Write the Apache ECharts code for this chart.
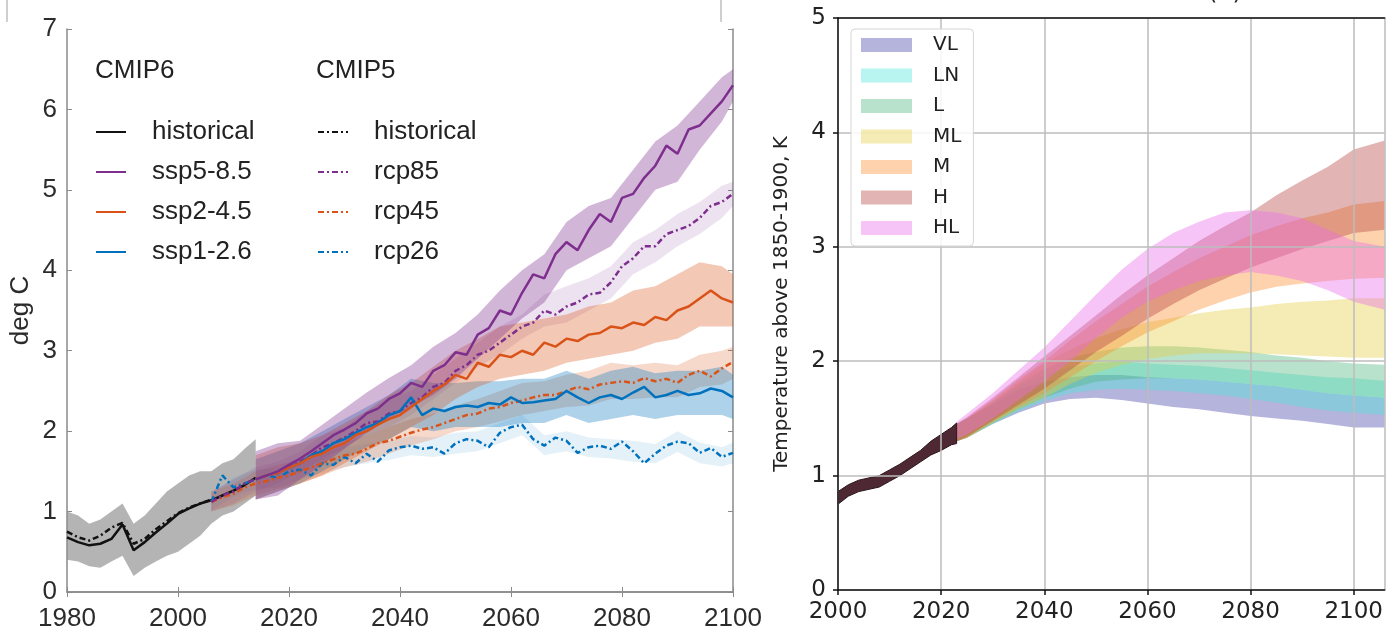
<!DOCTYPE html>
<html>
<head>
<meta charset="utf-8">
<script src="https://cdn.jsdelivr.net/npm/echarts@6/dist/echarts.min.js"></script>
<style>
html,body{margin:0;padding:0;background:#fff;}
#chart{width:1386px;height:633px;}
</style>
</head>
<body>
<div id="chart"></div>
<script>
// year lists (x categories)
function span(a, b, s){ var r = []; for (var y = a; y <= b; y += s) r.push(y); return r; }

// ---- panel (a): CMIP6 / CMIP5 ----
var yrHist6 = span(1980, 2014, 2);
var yrHist5 = span(1980, 2006, 2);
var yrSsp = span(2014, 2100, 2);
var yrRcp = span(2006, 2100, 2);
var yrSspBand = span(2014, 2098, 4).concat([2100]);
var yrRcpBand = span(2006, 2098, 4).concat([2100]);

var hist6 = [0.68,0.62,0.58,0.6,0.66,0.84,0.52,0.62,0.74,0.85,0.97,1.04,1.1,1.14,1.2,1.26,1.33,1.42];
var hist5 = [0.75,0.68,0.64,0.7,0.8,0.86,0.6,0.66,0.78,0.88,0.98,1.05,1.1,1.15];
var hist6Lo = [0.4,0.38,0.32,0.3,0.38,0.45,0.2,0.3,0.38,0.45,0.5,0.6,0.7,0.85,0.95,1.0,1.1,1.2];
var hist6Hi = [1.0,0.95,0.85,0.9,1.0,1.1,0.85,0.95,1.1,1.25,1.35,1.45,1.5,1.5,1.6,1.65,1.78,1.9];

var ssp585 = [1.4,1.45,1.5,1.58,1.66,1.75,1.85,1.95,2.02,2.1,2.22,2.28,2.4,2.47,2.6,2.55,2.75,2.82,2.98,2.95,3.2,3.28,3.5,3.45,3.72,3.95,3.9,4.2,4.35,4.25,4.5,4.7,4.6,4.9,4.95,5.15,5.3,5.55,5.45,5.75,5.8,5.95,6.1,6.3];
var ssp585Lo = [1.15,1.2,1.4,1.58,1.78,1.98,2.15,2.3,2.45,2.65,2.9,3.15,3.4,3.6,4.0,4.15,4.3,4.65,5.0,5.1,5.5,5.85,6.1];
var ssp585Hi = [1.75,1.85,1.88,2.08,2.28,2.48,2.66,2.82,3.05,3.22,3.45,3.75,4.0,4.2,4.6,4.8,4.9,5.25,5.6,5.8,6.1,6.4,6.5];

var ssp245 = [1.4,1.45,1.48,1.55,1.6,1.68,1.72,1.8,1.85,1.95,2.0,2.08,2.15,2.2,2.3,2.4,2.5,2.58,2.7,2.65,2.85,2.8,2.95,2.92,3.0,2.95,3.1,3.05,3.15,3.12,3.2,3.22,3.3,3.28,3.35,3.32,3.42,3.38,3.5,3.55,3.65,3.75,3.65,3.6];
var ssp245Lo = [1.15,1.25,1.35,1.45,1.6,1.75,1.9,2.05,2.2,2.4,2.55,2.65,2.7,2.75,2.85,2.9,2.95,3.0,3.1,3.15,3.3,3.3,3.3];
var ssp245Hi = [1.7,1.8,1.85,1.95,2.1,2.25,2.45,2.6,2.8,3.0,3.15,3.3,3.35,3.4,3.45,3.55,3.6,3.75,3.8,3.95,4.1,4.05,3.95];

var ssp126 = [1.4,1.45,1.48,1.55,1.6,1.7,1.75,1.85,1.9,1.98,2.05,2.1,2.2,2.25,2.42,2.2,2.28,2.25,2.3,2.32,2.3,2.35,2.33,2.42,2.35,2.36,2.38,2.4,2.5,2.42,2.35,2.42,2.45,2.4,2.48,2.55,2.42,2.45,2.5,2.45,2.47,2.53,2.5,2.42];
var ssp126Lo = [1.15,1.25,1.35,1.5,1.65,1.8,1.9,2.05,2.0,2.05,2.05,2.05,2.1,2.1,2.2,2.1,2.15,2.2,2.15,2.2,2.2,2.2,2.15];
var ssp126Hi = [1.65,1.75,1.85,2.0,2.15,2.3,2.45,2.65,2.6,2.6,2.62,2.62,2.65,2.65,2.75,2.65,2.75,2.8,2.72,2.75,2.75,2.8,2.7];

var rcp85 = [1.12,1.2,1.25,1.35,1.4,1.45,1.48,1.55,1.62,1.7,1.8,1.85,1.92,2.0,2.1,2.12,2.22,2.25,2.35,2.42,2.55,2.6,2.75,2.82,2.95,3.0,3.1,3.2,3.3,3.35,3.5,3.45,3.55,3.6,3.7,3.72,3.85,4.05,4.15,4.3,4.3,4.45,4.5,4.55,4.65,4.8,4.85,4.95];
var rcp85Lo = [1.0,1.1,1.25,1.35,1.5,1.65,1.8,1.95,2.05,2.2,2.4,2.6,2.8,2.95,3.15,3.3,3.35,3.5,3.65,3.95,4.1,4.3,4.45,4.65,4.8];
var rcp85Hi = [1.25,1.4,1.55,1.62,1.75,1.95,2.05,2.25,2.4,2.5,2.7,2.9,3.1,3.3,3.45,3.7,3.8,3.9,4.05,4.35,4.5,4.7,4.85,5.05,5.1];

var rcp45 = [1.12,1.18,1.22,1.3,1.35,1.38,1.42,1.45,1.5,1.55,1.6,1.65,1.7,1.72,1.78,1.85,1.88,1.93,1.98,2.02,2.05,2.1,2.15,2.2,2.22,2.28,2.3,2.35,2.38,2.42,2.45,2.45,2.5,2.55,2.52,2.58,2.6,2.62,2.6,2.66,2.62,2.65,2.6,2.7,2.75,2.68,2.78,2.86];
var rcp45Lo = [1.0,1.08,1.2,1.28,1.35,1.45,1.55,1.62,1.72,1.82,1.9,2.0,2.05,2.12,2.2,2.25,2.3,2.32,2.4,2.4,2.42,2.42,2.55,2.58,2.65];
var rcp45Hi = [1.25,1.35,1.5,1.58,1.65,1.75,1.85,1.95,2.05,2.15,2.22,2.32,2.4,2.5,2.6,2.62,2.7,2.75,2.85,2.82,2.85,2.82,2.95,3.0,3.05];

var rcp26 = [1.12,1.45,1.3,1.35,1.4,1.45,1.42,1.5,1.52,1.45,1.6,1.58,1.68,1.6,1.72,1.62,1.76,1.8,1.82,1.78,1.8,1.72,1.85,1.9,1.88,1.8,1.98,2.05,2.08,1.9,1.82,1.92,1.88,1.73,1.8,1.82,1.78,1.87,1.75,1.6,1.72,1.82,1.87,1.85,1.73,1.79,1.68,1.73];
var rcp26Lo = [1.02,1.18,1.28,1.3,1.4,1.48,1.55,1.6,1.64,1.7,1.68,1.72,1.75,1.85,1.95,1.7,1.75,1.68,1.66,1.62,1.6,1.74,1.6,1.56,1.6];
var rcp26Hi = [1.22,1.42,1.52,1.54,1.64,1.72,1.8,1.84,1.88,1.94,1.92,1.98,2.0,2.1,2.2,1.95,2.0,1.92,1.9,1.88,1.84,2.0,1.86,1.8,1.86];

// ---- panel (b): scenario ranges ----
var yrB = [2023,2025,2030,2035,2040,2045,2050,2055,2060,2065,2070,2075,2080,2085,2090,2095,2100,2106];
var yrBHist = [2000,2002,2004,2006,2008,2010,2012,2014,2016,2018,2020,2022,2023];
var histBLo = [0.75,0.82,0.86,0.88,0.9,0.95,1.0,1.06,1.12,1.18,1.22,1.27,1.28];
var histBHi = [0.86,0.92,0.96,0.98,1.0,1.05,1.1,1.16,1.22,1.3,1.36,1.42,1.46];

var vlLo = [1.3,1.33,1.45,1.55,1.63,1.67,1.68,1.66,1.63,1.6,1.58,1.55,1.52,1.5,1.48,1.45,1.42,1.42];
var vlHi = [1.45,1.5,1.62,1.75,1.82,1.86,1.88,1.88,1.86,1.85,1.84,1.82,1.8,1.78,1.75,1.72,1.7,1.68];
var lnLo = [1.3,1.33,1.45,1.56,1.65,1.72,1.75,1.76,1.75,1.74,1.72,1.7,1.67,1.64,1.6,1.57,1.55,1.53];
var lnHi = [1.45,1.5,1.63,1.78,1.88,1.95,1.98,2.0,1.98,1.97,1.96,1.94,1.92,1.9,1.88,1.86,1.85,1.83];
var lLo = [1.3,1.33,1.46,1.58,1.68,1.76,1.82,1.84,1.85,1.85,1.84,1.82,1.8,1.78,1.75,1.72,1.7,1.68];
var lHi = [1.45,1.5,1.64,1.8,1.93,2.03,2.08,2.12,2.13,2.13,2.12,2.1,2.08,2.05,2.03,2.0,1.98,1.97];
var mlLo = [1.3,1.33,1.46,1.58,1.68,1.8,1.9,1.97,2.02,2.05,2.07,2.07,2.07,2.06,2.05,2.04,2.03,2.03];
var mlHi = [1.45,1.5,1.65,1.82,1.98,2.1,2.2,2.28,2.34,2.38,2.42,2.45,2.47,2.5,2.52,2.53,2.55,2.55];
var mLo = [1.3,1.33,1.47,1.6,1.72,1.86,2.0,2.13,2.25,2.35,2.45,2.53,2.6,2.65,2.68,2.7,2.72,2.73];
var mHi = [1.45,1.5,1.66,1.84,2.0,2.18,2.35,2.5,2.65,2.78,2.9,3.0,3.1,3.18,3.25,3.3,3.37,3.4];
var hLo = [1.3,1.34,1.48,1.62,1.76,1.92,2.08,2.22,2.37,2.5,2.62,2.72,2.82,2.9,2.98,3.05,3.12,3.15];
var hHi = [1.45,1.51,1.68,1.86,2.04,2.22,2.4,2.58,2.75,2.9,3.05,3.18,3.3,3.45,3.58,3.7,3.85,3.93];
var hlLo = [1.32,1.36,1.5,1.66,1.82,2.0,2.2,2.38,2.52,2.62,2.7,2.75,2.78,2.75,2.7,2.62,2.52,2.45];
var hlHi = [1.47,1.54,1.72,1.92,2.12,2.35,2.58,2.8,2.98,3.12,3.22,3.3,3.32,3.3,3.25,3.15,3.05,3.0];

var purple = '#7E2F8E', orange = '#D95319', blue = '#0072BD';
var fontA = 'Liberation Sans, Arial, sans-serif';
var fontB = 'DejaVu Sans, sans-serif';

function pairs(xs, ys){ return xs.map(function(x, i){ return [x, ys[i]]; }); }
function plain(v){ return String(v); }

// filled range between lo and hi, drawn as one polygon
function band(name, xs, lo, hi, color, grid, z, border){
	var pts = xs.map(function(x, i){ return [x, lo[i], hi[i]]; });
	return {
		type: 'custom', name: name, xAxisIndex: grid == 0 ? 0 : 2, yAxisIndex: grid == 0 ? 0 : 2,
		z: z, silent: true, itemStyle: {color: color},
		data: pts,
		renderItem: function(params, api){
			if (params.dataIndex !== 0) return null;
			var top = [], bot = [];
			for (var i = 0; i < pts.length; i++){
				top.push(api.coord([pts[i][0], pts[i][2]]));
				bot.unshift(api.coord([pts[i][0], pts[i][1]]));
			}
			return {type: 'polygon', shape: {points: top.concat(bot)},
				style: {fill: color, stroke: border || null, lineWidth: border ? 1 : 0}};
		}
	};
}

function line(name, xs, ys, color, dashed){
	return {
		type: 'line', name: name, xAxisIndex: 0, yAxisIndex: 0, z: 3,
		symbol: 'none', silent: true, animation: false,
		lineStyle: {color: color, width: 2.5, type: dashed ? [6, 3, 2, 3] : 'solid'},
		itemStyle: {color: color},
		data: pairs(xs, ys)
	};
}

var frameA = {lineStyle: {color: '#8a8a8a', width: 1.5}};
var tickA = {show: true, inside: true, length: 5, lineStyle: {color: '#8a8a8a'}};
var labA = {fontSize: 26, color: '#2b2b2b', fontFamily: fontA, formatter: plain};
var legA = {orient: 'vertical', top: 119, padding: 0, itemWidth: 30, itemHeight: 14, itemGap: 14,
	selectedMode: false, itemStyle: {opacity: 0},
	textStyle: {fontSize: 26, lineHeight: 26, color: '#222', fontFamily: fontA, padding: [0, 0, 0, 21]}};

var chart = echarts.init(document.getElementById('chart'));
chart.setOption({
	animation: false,
	backgroundColor: '#fff',
	title: [
		{text: 'CMIP6', left: 95, top: 58, padding: 0, textStyle: {fontSize: 26, fontWeight: 'normal', color: '#222', fontFamily: fontA}},
		{text: 'CMIP5', left: 316, top: 58, padding: 0, textStyle: {fontSize: 26, fontWeight: 'normal', color: '#222', fontFamily: fontA}}
	],
	graphic: [
		{type: 'line', shape: {x1: 7, y1: 0, x2: 7, y2: 22}, style: {stroke: '#cfcfcf', lineWidth: 2}},
		{type: 'line', shape: {x1: 721, y1: 0, x2: 721, y2: 22}, style: {stroke: '#cfcfcf', lineWidth: 2}},
		{type: 'text', x: 1208, y: -19, style: {text: '(b)', fontSize: 24, fill: '#222', fontFamily: fontB}}
	],
	legend: [
		Object.assign({data: ['historical', 'ssp5-8.5', 'ssp2-4.5', 'ssp1-2.6'], left: 95}, legA),
		Object.assign({data: ['historical ', 'rcp85', 'rcp45', 'rcp26'], left: 317,
			formatter: function(n){ return n.trim(); }}, legA),
		{data: ['VL', 'LN', 'L', 'ML', 'M', 'H', 'HL'], orient: 'vertical', left: 851, top: 29,
		 padding: [6, 12, 8, 10], itemWidth: 51, itemHeight: 14, itemGap: 10.5, icon: 'rect', selectedMode: false,
		 backgroundColor: 'rgba(255,255,255,0.85)', borderColor: '#d6d6d6', borderWidth: 1, borderRadius: 4,
		 textStyle: {fontSize: 20, lineHeight: 20, color: '#222', fontFamily: fontB, padding: [0, 0, 0, 16]}}
	],
	grid: [
		{left: 67, top: 29, width: 666, height: 563},
		{left: 838, top: 18, width: 548, height: 572}
	],
	xAxis: [
		{gridIndex: 0, type: 'value', min: 1980, max: 2100, interval: 20, position: 'bottom',
		 axisLine: frameA, axisTick: tickA, splitLine: {show: false},
		 axisLabel: Object.assign({margin: 14}, labA)},
		{gridIndex: 0, type: 'value', min: 1980, max: 2100, interval: 20, position: 'top',
		 axisLine: frameA, axisTick: tickA, splitLine: {show: false}, axisLabel: {show: false}},
		{gridIndex: 1, type: 'value', min: 2000, max: 2106, interval: 20, position: 'bottom', z: 3,
		 axisLine: {lineStyle: {color: '#111', width: 1.5}},
		 axisTick: {show: true, length: 5, lineStyle: {color: '#111', width: 1.5}},
		 splitLine: {show: true, lineStyle: {color: '#bcbcbc', width: 1.5}},
		 axisLabel: {margin: 11, fontSize: 23, color: '#222', fontFamily: fontB, showMaxLabel: false, formatter: plain}},
		{gridIndex: 1, type: 'value', min: 2000, max: 2106, interval: 20, position: 'top', z: 3,
		 axisLine: {lineStyle: {color: '#111', width: 1.5}}, axisTick: {show: false},
		 splitLine: {show: false}, axisLabel: {show: false}}
	],
	yAxis: [
		{gridIndex: 0, type: 'value', min: 0, max: 7, interval: 1, position: 'left',
		 axisLine: frameA, axisTick: tickA, splitLine: {show: false},
		 axisLabel: Object.assign({margin: 10}, labA),
		 name: 'deg C', nameLocation: 'middle', nameGap: 33,
		 nameTextStyle: {fontSize: 26, color: '#2b2b2b', fontFamily: fontA}},
		{gridIndex: 0, type: 'value', min: 0, max: 7, interval: 1, position: 'right',
		 axisLine: frameA, axisTick: tickA, splitLine: {show: false}, axisLabel: {show: false}},
		{gridIndex: 1, type: 'value', min: 0, max: 5, interval: 1, position: 'left', z: 3,
		 axisLine: {lineStyle: {color: '#111', width: 1.5}},
		 axisTick: {show: true, length: 5, lineStyle: {color: '#111', width: 1.5}},
		 splitLine: {show: true, lineStyle: {color: '#bcbcbc', width: 1.5}},
		 axisLabel: {margin: 12, fontSize: 23, color: '#222', fontFamily: fontB, formatter: plain},
		 name: 'Temperature above 1850-1900, K', nameLocation: 'middle', nameGap: 46,
		 nameTextStyle: {fontSize: 20, color: '#222', fontFamily: fontB}}
	],
	series: [
		band('bandHist', yrHist6, hist6Lo, hist6Hi, 'rgba(140,140,140,0.65)', 0, 1),
		band('band26', yrRcpBand, rcp26Lo, rcp26Hi, 'rgba(0,114,189,0.1)', 0, 1),
		band('band45', yrRcpBand, rcp45Lo, rcp45Hi, 'rgba(217,83,25,0.22)', 0, 1),
		band('band85', yrRcpBand, rcp85Lo, rcp85Hi, 'rgba(126,47,142,0.14)', 0, 1),
		band('band126', yrSspBand, ssp126Lo, ssp126Hi, 'rgba(0,114,189,0.32)', 0, 1),
		band('band245', yrSspBand, ssp245Lo, ssp245Hi, 'rgba(217,83,25,0.32)', 0, 1),
		band('band585', yrSspBand, ssp585Lo, ssp585Hi, 'rgba(126,47,142,0.35)', 0, 1),
		line('historical ', yrHist5, hist5, '#111', true),
		line('historical', yrHist6, hist6, '#111', false),
		line('rcp26', yrRcp, rcp26, blue, true),
		line('rcp45', yrRcp, rcp45, orange, true),
		line('rcp85', yrRcp, rcp85, purple, true),
		line('ssp1-2.6', yrSsp, ssp126, blue, false),
		line('ssp2-4.5', yrSsp, ssp245, orange, false),
		line('ssp5-8.5', yrSsp, ssp585, purple, false),

		band('VL', yrB, vlLo, vlHi, 'rgba(67,67,167,0.4)', 1, 2),
		band('LN', yrB, lnLo, lnHi, 'rgba(77,230,217,0.4)', 1, 2),
		band('L', yrB, lLo, lHi, 'rgba(80,182,127,0.4)', 1, 2),
		band('ML', yrB, mlLo, mlHi, 'rgba(227,207,67,0.4)', 1, 2),
		band('M', yrB, mLo, mHi, 'rgba(250,142,47,0.4)', 1, 2),
		band('H', yrB, hLo, hHi, 'rgba(182,67,67,0.4)', 1, 2),
		band('HL', yrB, hlLo, hlHi, 'rgba(232,107,232,0.4)', 1, 2),
		band('hist', yrBHist, histBLo, histBHi, '#4e2832', 1, 2, '#2a151b')
	]
});
</script>
</body>
</html>
